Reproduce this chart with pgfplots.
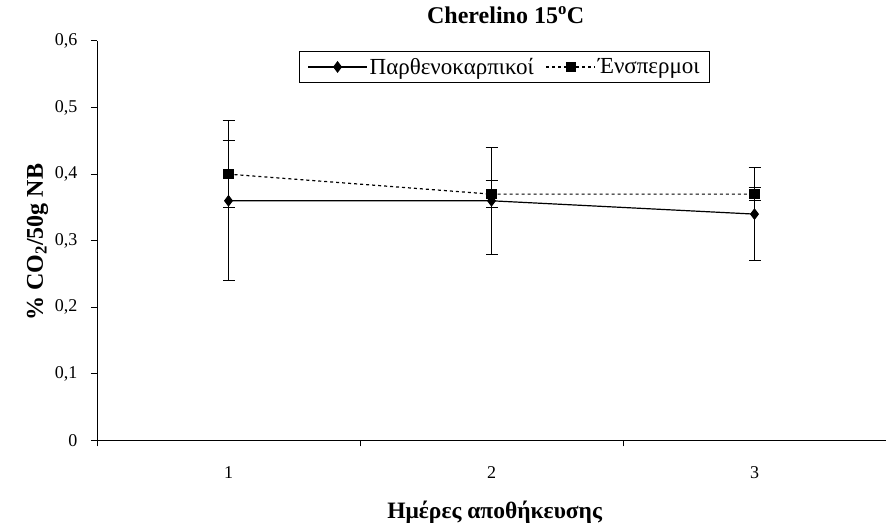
\documentclass[border=0pt]{standalone}
\usepackage{pgfplots}
\pgfplotsset{compat=1.18}
\usepackage{fontspec}
\setmainfont{Liberation Serif}
\newcommand{\tkf}{\fontsize{18}{21}\selectfont}
\begin{document}
\begin{tikzpicture}[x=1pt,y=1pt]
\useasboundingbox (0,0) rectangle (886,526);
\begin{axis}[
  at={(97pt,85.5pt)}, anchor=south west,
  scale only axis, width=789pt, height=399.5pt,
  xmin=0.5, xmax=3.5, ymin=0, ymax=0.6,
  axis lines*=left,
  axis line style={-, line width=1pt},
  tick align=outside,
  major tick length=6pt,
  tick style={line width=1pt, black},
  xtick={0.5,1.5,2.5,3.5},
  xticklabels={},
  extra x ticks={1,2,3},
  extra x tick labels={{\tkf 1},{\tkf 2},{\tkf 3}},
  extra x tick style={major tick length=0pt},
  ytick={0,0.1,0.2,0.3,0.4,0.5,0.6},
  yticklabel={\tkf\pgfmathprintnumber[assume math mode=true,use comma,fixed,precision=1]{\tick}},
  yticklabel style={xshift=-10pt},
  xticklabel style={anchor=base, yshift=-38.5pt},
  title={\bfseries Cherelino 15\textsuperscript{o}C},
  title style={font=\fontsize{24}{28}\selectfont, at={(axis description cs:0.518,1)}, anchor=base, yshift=11pt},
  xlabel={\bfseries Ημέρες αποθήκευσης},
  xlabel style={font=\fontsize{23.5}{28}\selectfont, at={(axis description cs:0.504,0)}, anchor=base, yshift=-78.5pt},
  ylabel={\bfseries \% CO\textsubscript{2}/50g NB},
  ylabel style={font=\fontsize{24}{28}\selectfont, at={(axis description cs:0,0.496)}, anchor=base, yshift=54pt},
  legend columns=2,
  legend style={at={(0.5165,0.935)}, anchor=center, draw=black, line width=1pt,
    font=\fontsize{23}{26}\selectfont, inner xsep=8pt, inner ysep=5pt,
    /tikz/every even column/.append style={column sep=10pt}},
  clip=false,
]
\addplot[black, line width=1.2pt, mark=diamond*, mark size=5pt, mark options={solid},
  legend image code/.code={\draw[mark repeat=2,mark phase=2] plot coordinates {(0pt,0pt) (29.5pt,0pt) (59pt,0pt)};},
  error bars/.cd, y dir=both, y explicit,
  error bar style={line width=1pt, black, solid},
  error mark options={rotate=90, mark size=6pt, line width=1pt, black}]
  coordinates {(1,0.36) +- (0,0.12) (2,0.36) +- (0,0.08) (3,0.34) +- (0,0.07)};
\addlegendentry{Παρθενοκαρπικοί}
\addplot[black, line width=1.2pt, dash pattern=on 3pt off 3pt, mark=square*, mark size=4.5pt, mark options={solid},
  legend image code/.code={\draw[mark repeat=2,mark phase=2] plot coordinates {(0pt,0pt) (24.5pt,0pt) (49pt,0pt)};},
  error bars/.cd, y dir=both, y explicit,
  error bar style={line width=1pt, black, solid},
  error mark options={rotate=90, mark size=6pt, line width=1pt, black}]
  coordinates {(1,0.40) +- (0,0.05) (2,0.37) +- (0,0.02) (3,0.37) +- (0,0.01)};
\addlegendentry{Ένσπερμοι}
\end{axis}
\end{tikzpicture}
\end{document}
